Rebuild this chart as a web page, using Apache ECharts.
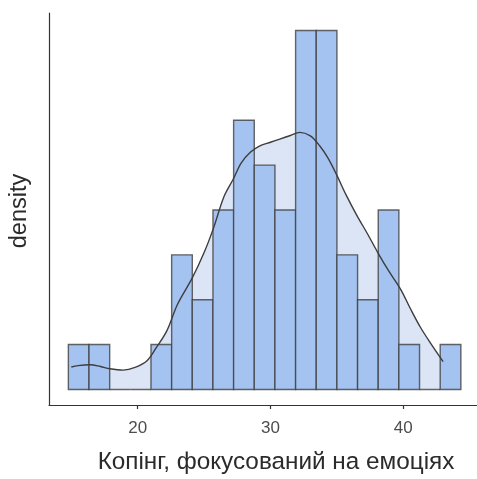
<!DOCTYPE html>
<html>
<head>
<meta charset="utf-8">
<script src="https://cdn.jsdelivr.net/npm/echarts@6/dist/echarts.min.js"></script>
<style>html,body{margin:0;padding:0;background:#fff;}#c{width:477px;height:479px;}</style>
</head>
<body>
<div id="c"></div>
<script>
// Histogram: bin counts (19 bins)
const binCounts = [1, 1, 0, 0, 1, 3, 2, 4, 6, 5, 4, 8, 8, 3, 2, 4, 1, 0, 1];
const binStart = 14.778;
const binWidth = 1.5556;
// Density curve (scaled to counts)
const densityX = [15.0, 15.5, 16.4, 17.2, 17.9, 18.9, 19.8, 20.7, 21.4, 22.2, 23.0, 24.1, 25.0, 25.7, 26.5, 27.2, 27.8, 28.5, 29.2, 30.0, 30.7, 31.5, 32.2, 33.0, 33.7, 34.3, 35.0, 35.7, 36.5, 37.3, 38.1, 38.9, 39.8, 40.5, 41.3, 42.1, 43.0];
const densityY = [0.50, 0.53, 0.55, 0.51, 0.46, 0.43, 0.49, 0.64, 0.93, 1.31, 1.90, 2.48, 3.05, 3.59, 4.30, 4.69, 5.05, 5.29, 5.43, 5.51, 5.58, 5.66, 5.73, 5.65, 5.43, 5.17, 4.77, 4.33, 3.88, 3.47, 3.04, 2.64, 2.23, 1.82, 1.38, 1.01, 0.62];
const xTicks = [20, 30, 40];
const xTitle = 'Копінг, фокусований на емоціях';
const yTitle = 'density';

const bins = binCounts.map((c, i) => [binStart + i * binWidth, binStart + (i + 1) * binWidth, c]);
const density = densityX.map((x, i) => [x, densityY[i]]);

const chart = echarts.init(document.getElementById('c'), null, {renderer: 'canvas'});
const FONT = '"Liberation Sans", Arial, Helvetica, sans-serif';
chart.setOption({
  animation: false,
  backgroundColor: '#ffffff',
  grid: {left: 49, right: 0, top: 13, bottom: 71, containLabel: false},
  xAxis: {
    type: 'value', min: 13.32, max: 45.55,
    splitLine: {show: false},
    axisLine: {show: true, onZero: false, lineStyle: {color: '#333333', width: 1.2}},
    axisTick: {show: true, length: 4, customValues: xTicks, lineStyle: {color: '#333333', width: 1.2}},
    axisLabel: {customValues: xTicks, margin: 15, color: '#4d4d4d', fontSize: 17, fontFamily: FONT},
    name: xTitle, nameLocation: 'middle', nameGap: 45,
    nameTextStyle: {color: '#2b2b2b', fontSize: 24.3, fontFamily: FONT, padding: [0, 0, 0, 26]}
  },
  yAxis: {
    type: 'value', min: -0.347, max: 8.39,
    splitLine: {show: false},
    axisLine: {show: true, onZero: false, lineStyle: {color: '#333333', width: 1.2}},
    axisTick: {show: false},
    axisLabel: {show: false},
    name: yTitle, nameLocation: 'middle', nameGap: 17,
    nameTextStyle: {color: '#2b2b2b', fontSize: 23.5, fontFamily: FONT, padding: [0, 0, 0, -4]}
  },
  series: [
    {
      type: 'line', data: density, smooth: 0.35, symbol: 'none', z: 1,
      lineStyle: {width: 0, opacity: 0},
      areaStyle: {color: '#dbe5f6', opacity: 1, origin: 0}
    },
    {
      type: 'custom', z: 2,
      data: bins,
      renderItem: function (params, api) {
        const p0 = api.coord([api.value(0), api.value(2)]);
        const p1 = api.coord([api.value(1), 0]);
        return {
          type: 'rect',
          shape: {x: p0[0], y: p0[1], width: p1[0] - p0[0], height: p1[1] - p0[1]},
          style: {fill: '#a5c3f0', stroke: 'rgba(60,60,60,0.78)', lineWidth: 1.4}
        };
      }
    },
    {
      type: 'line', data: density, smooth: 0.35, symbol: 'none', z: 3,
      lineStyle: {color: '#3d3d3d', width: 1.4}
    }
  ]
});
</script>
</body>
</html>
